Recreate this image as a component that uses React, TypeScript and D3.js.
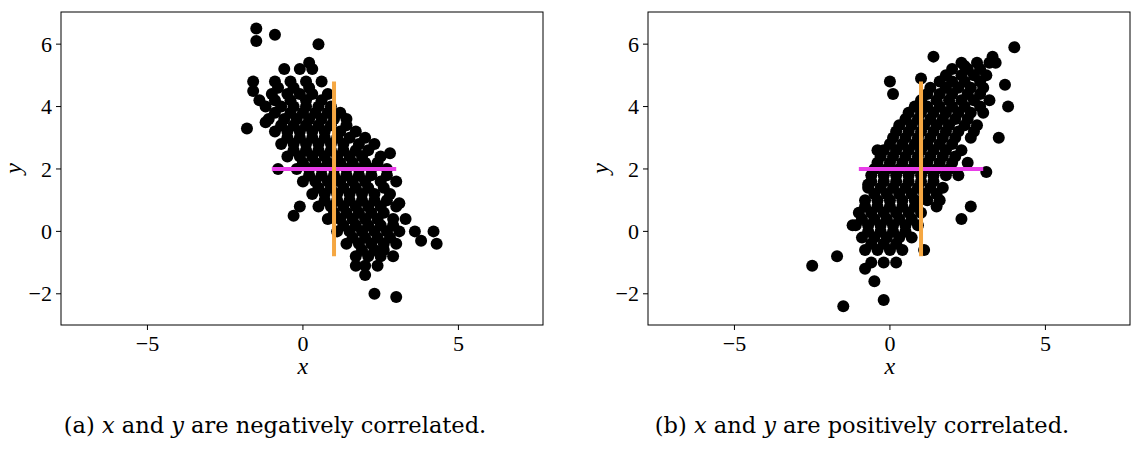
import * as d3 from 'd3'
import type { ReactElement } from 'react'

// points, [x, y]
const negativePoints: [number, number][] = [
  [-1.5, 6.5], [-1.5, 6.1], [-0.9, 6.3], [0.5, 6.0], [-1.6, 4.8], [-1.6, 4.5], [-1.8, 3.3], [-1.2, 3.5],
  [-0.8, 2.0], [-0.3, 0.5], [-0.1, 0.8], [3.6, 0.0], [3.8, -0.3], [4.2, 0.0], [4.3, -0.4], [3.0, -2.1],
  [2.3, -2.0], [2.0, -1.4], [1.7, -1.1], [3.1, 0.9], [2.6, -0.6], [-1.4, 4.2], [0.2, 5.4], [2.8, 2.5],
  [-0.6, 5.2], [-0.1, 5.2], [0.3, 5.2],
  [-0.9, 4.8], [-0.4, 4.8], [0.1, 4.8], [0.6, 4.8],
  [-1.0, 4.4], [-0.5, 4.4], [-0.1, 4.4], [0.3, 4.4], [0.8, 4.4],
  [-1.2, 4.0], [-0.7, 4.0], [-0.3, 4.0], [0.1, 4.0], [0.5, 4.0], [0.9, 4.0],
  [-1.1, 3.6], [-0.6, 3.6], [-0.2, 3.6], [0.2, 3.6], [0.6, 3.6], [1.0, 3.6], [1.4, 3.6],
  [-0.9, 3.2], [-0.5, 3.2], [-0.1, 3.2], [0.3, 3.2], [0.7, 3.2], [1.2, 3.2], [1.7, 3.2],
  [-0.7, 2.8], [-0.3, 2.8], [0.1, 2.8], [0.5, 2.8], [0.9, 2.8], [1.3, 2.8], [1.8, 2.8], [2.3, 2.8],
  [-0.5, 2.4], [-0.1, 2.4], [0.3, 2.4], [0.7, 2.4], [1.1, 2.4], [1.5, 2.4], [1.9, 2.4], [2.5, 2.4],
  [-0.2, 2.0], [0.2, 2.0], [0.6, 2.0], [1.0, 2.0], [1.4, 2.0], [1.8, 2.0], [2.2, 2.0], [2.7, 2.0],
  [0.0, 1.6], [0.4, 1.6], [0.8, 1.6], [1.2, 1.6], [1.6, 1.6], [2.0, 1.6], [2.5, 1.6], [3.0, 1.6],
  [0.3, 1.2], [0.7, 1.2], [1.1, 1.2], [1.5, 1.2], [1.9, 1.2], [2.3, 1.2], [2.8, 1.2],
  [0.5, 0.8], [0.9, 0.8], [1.3, 0.8], [1.7, 0.8], [2.1, 0.8], [2.5, 0.8], [3.0, 0.8],
  [0.8, 0.4], [1.2, 0.4], [1.6, 0.4], [2.0, 0.4], [2.4, 0.4], [2.9, 0.4], [3.3, 0.4],
  [1.1, 0.0], [1.5, 0.0], [1.9, 0.0], [2.3, 0.0], [2.7, 0.0], [3.1, 0.0],
  [1.4, -0.4], [1.8, -0.4], [2.2, -0.4], [2.6, -0.4], [3.0, -0.4],
  [1.7, -0.8], [2.1, -0.8], [2.5, -0.8], [2.9, -0.8],
  [2.0, -1.1], [2.4, -1.1],
  [-0.8, 4.6], [-0.3, 4.6], [0.2, 4.6], [-0.9, 4.2], [-0.4, 4.2], [0.1, 4.2], [0.6, 4.2],
  [-0.9, 3.8], [-0.4, 3.8], [0.0, 3.8], [0.4, 3.8], [0.8, 3.8], [1.2, 3.8],
  [-0.7, 3.4], [-0.3, 3.4], [0.1, 3.4], [0.5, 3.4], [0.9, 3.4], [1.4, 3.4],
  [-0.5, 3.0], [-0.1, 3.0], [0.3, 3.0], [0.7, 3.0], [1.1, 3.0], [1.5, 3.0], [2.0, 3.0],
  [-0.3, 2.6], [0.1, 2.6], [0.5, 2.6], [0.9, 2.6], [1.3, 2.6], [1.7, 2.6], [2.1, 2.6],
  [0.0, 2.2], [0.4, 2.2], [0.8, 2.2], [1.2, 2.2], [1.6, 2.2], [2.0, 2.2], [2.4, 2.2],
  [0.2, 1.8], [0.6, 1.8], [1.0, 1.8], [1.4, 1.8], [1.8, 1.8], [2.2, 1.8], [2.7, 1.8],
  [0.5, 1.4], [0.9, 1.4], [1.3, 1.4], [1.7, 1.4], [2.1, 1.4], [2.6, 1.4],
  [0.7, 1.0], [1.1, 1.0], [1.5, 1.0], [1.9, 1.0], [2.3, 1.0], [2.7, 1.0],
  [1.0, 0.6], [1.4, 0.6], [1.8, 0.6], [2.2, 0.6], [2.6, 0.6],
  [1.3, 0.2], [1.7, 0.2], [2.1, 0.2], [2.5, 0.2], [2.9, 0.2],
  [1.6, -0.2], [2.0, -0.2], [2.4, -0.2], [2.8, -0.2], [1.9, -0.6], [2.3, -0.6],
]

const positivePoints: [number, number][] = [
  [-2.5, -1.1], [-1.5, -2.4], [-0.2, -2.2], [4.0, 5.9], [3.3, 5.6], [1.4, 5.6], [2.4, 5.3], [0.1, 4.4],
  [-0.4, 2.6], [3.8, 4.0], [2.6, 0.8], [2.3, 0.4], [1.5, 0.8], [3.1, 1.9], [3.5, 3.0], [-1.2, 0.2],
  [-1.7, -0.8], [-0.5, -1.6], [-0.8, -1.2], [3.7, 4.7], [3.4, 5.4], [-0.7, 1.5], [0.0, 4.8], [1.0, 4.9],
  [2.3, 5.4], [2.8, 5.4], [3.2, 5.4],
  [1.8, 5.0], [2.3, 5.0], [2.7, 5.0], [3.1, 5.0],
  [1.3, 4.6], [1.8, 4.6], [2.2, 4.6], [2.6, 4.6], [3.0, 4.6],
  [1.0, 4.2], [1.5, 4.2], [1.9, 4.2], [2.3, 4.2], [2.7, 4.2], [3.2, 4.2],
  [0.6, 3.8], [1.0, 3.8], [1.4, 3.8], [1.8, 3.8], [2.2, 3.8], [2.6, 3.8], [3.0, 3.8],
  [0.3, 3.4], [0.7, 3.4], [1.1, 3.4], [1.5, 3.4], [1.9, 3.4], [2.4, 3.4], [2.8, 3.4],
  [0.1, 3.0], [0.5, 3.0], [0.9, 3.0], [1.3, 3.0], [1.7, 3.0], [2.1, 3.0], [2.6, 3.0],
  [-0.2, 2.6], [0.2, 2.6], [0.6, 2.6], [1.0, 2.6], [1.4, 2.6], [1.8, 2.6], [2.3, 2.6],
  [-0.4, 2.2], [0.0, 2.2], [0.4, 2.2], [0.8, 2.2], [1.2, 2.2], [1.6, 2.2], [2.0, 2.2], [2.5, 2.2],
  [-0.6, 1.8], [-0.2, 1.8], [0.2, 1.8], [0.6, 1.8], [1.0, 1.8], [1.4, 1.8], [1.8, 1.8], [2.2, 1.8],
  [-0.7, 1.4], [-0.3, 1.4], [0.1, 1.4], [0.5, 1.4], [0.9, 1.4], [1.3, 1.4], [1.7, 1.4],
  [-0.8, 1.0], [-0.4, 1.0], [0.0, 1.0], [0.4, 1.0], [0.8, 1.0], [1.2, 1.0], [1.6, 1.0],
  [-1.0, 0.6], [-0.6, 0.6], [-0.2, 0.6], [0.2, 0.6], [0.6, 0.6], [1.0, 0.6],
  [-1.1, 0.2], [-0.7, 0.2], [-0.3, 0.2], [0.1, 0.2], [0.5, 0.2], [0.9, 0.2],
  [-0.9, -0.2], [-0.5, -0.2], [-0.1, -0.2], [0.3, -0.2], [0.7, -0.2],
  [-0.8, -0.6], [-0.4, -0.6], [0.0, -0.6], [0.4, -0.6], [1.1, -0.6],
  [-0.6, -1.0], [-0.2, -1.0], [0.2, -1.0],
  [2.0, 5.2], [2.5, 5.2], [2.9, 5.2], [1.6, 4.8], [2.0, 4.8], [2.4, 4.8], [2.9, 4.8],
  [1.2, 4.4], [1.6, 4.4], [2.0, 4.4], [2.5, 4.4], [2.9, 4.4],
  [0.8, 4.0], [1.2, 4.0], [1.6, 4.0], [2.0, 4.0], [2.4, 4.0], [2.9, 4.0],
  [0.5, 3.6], [0.9, 3.6], [1.3, 3.6], [1.7, 3.6], [2.1, 3.6], [2.5, 3.6],
  [0.2, 3.2], [0.6, 3.2], [1.0, 3.2], [1.4, 3.2], [1.8, 3.2], [2.2, 3.2], [2.7, 3.2],
  [0.0, 2.8], [0.4, 2.8], [0.8, 2.8], [1.2, 2.8], [1.6, 2.8], [2.0, 2.8],
  [-0.3, 2.4], [0.1, 2.4], [0.5, 2.4], [0.9, 2.4], [1.3, 2.4], [1.7, 2.4], [2.1, 2.4],
  [-0.5, 2.0], [-0.1, 2.0], [0.3, 2.0], [0.7, 2.0], [1.1, 2.0], [1.5, 2.0], [1.9, 2.0],
  [-0.6, 1.6], [-0.2, 1.6], [0.2, 1.6], [0.6, 1.6], [1.0, 1.6], [1.4, 1.6],
  [-0.5, 1.2], [-0.1, 1.2], [0.3, 1.2], [0.7, 1.2], [1.1, 1.2], [1.5, 1.2],
  [-0.8, 0.8], [-0.4, 0.8], [0.0, 0.8], [0.4, 0.8], [0.8, 0.8],
  [-0.9, 0.4], [-0.5, 0.4], [-0.1, 0.4], [0.3, 0.4], [0.7, 0.4],
  [-0.7, 0.0], [-0.3, 0.0], [0.1, 0.0], [0.5, 0.0], [-0.6, -0.4], [-0.2, -0.4], [0.2, -0.4],
]

const xTicks = [-5, 0, 5]
const yTicks = [-2, 0, 2, 4, 6]
const xDomain: [number, number] = [-7.78, 7.72]
const yDomain: [number, number] = [-3, 7.03]
const verticalLine = { x: 1, y0: -0.8, y1: 4.8 }
const horizontalLine = { y: 2, x0: -1, x1: 3 }

const panels = [
  { left: 61, points: negativePoints, tag: '(a)', word: 'negatively' },
  { left: 648, points: positivePoints, tag: '(b)', word: 'positively' },
]

const plotWidth = 482
const plotTop = 12
const plotHeight = 313
const serif = '"Liberation Serif", "DejaVu Serif", serif'

function Panel({ left, points, tag, word }: (typeof panels)[number]): ReactElement {
  const x = d3.scaleLinear().domain(xDomain).range([0, plotWidth])
  const y = d3.scaleLinear().domain(yDomain).range([plotHeight, 0])
  const fmt = (v: number) => (v < 0 ? `\u2212${Math.abs(v)}` : `${v}`)
  return (
    <g transform={`translate(${left},${plotTop})`}>
      <rect width={plotWidth} height={plotHeight} fill="white" />
      {points.map(([px, py], i) => (
        <circle key={i} cx={x(px)} cy={y(py)} r={6} fill="black" />
      ))}
      <line x1={x(horizontalLine.x0)} x2={x(horizontalLine.x1)} y1={y(horizontalLine.y)} y2={y(horizontalLine.y)}
        stroke="#e83ee8" strokeWidth={4} />
      <line x1={x(verticalLine.x)} x2={x(verticalLine.x)} y1={y(verticalLine.y0)} y2={y(verticalLine.y1)}
        stroke="#f5a742" strokeWidth={4} />
      <rect width={plotWidth} height={plotHeight} fill="none" stroke="black" strokeWidth={1} />
      {xTicks.map((t) => (
        <g key={t} transform={`translate(${x(t)},${plotHeight})`}>
          <line y2={5} stroke="black" />
          <text y={26} textAnchor="middle" fontFamily={serif} fontSize={22}>{fmt(t)}</text>
        </g>
      ))}
      {yTicks.map((t) => (
        <g key={t} transform={`translate(0,${y(t)})`}>
          <line x2={-5} stroke="black" />
          <text x={-9} dy="0.35em" textAnchor="end" fontFamily={serif} fontSize={22}>{fmt(t)}</text>
        </g>
      ))}
      <text x={x(0)} y={plotHeight + 49} textAnchor="middle" fontFamily={serif} fontStyle="italic" fontSize={24}>x</text>
      <text transform={`translate(-40,${plotHeight / 2}) rotate(-90)`} textAnchor="middle" fontFamily={serif}
        fontStyle="italic" fontSize={24}>y</text>
      <text x={plotWidth / 2 - 27} y={plotHeight + 108} textAnchor="middle" fontFamily='"DejaVu Serif", serif'
        fontSize={22.5}>
        {tag} <tspan fontStyle="italic">x</tspan> and <tspan fontStyle="italic">y</tspan> are {word} correlated.
      </text>
    </g>
  )
}

export default function App(): ReactElement {
  return (
    <svg width={1144} height={450} style={{ position: 'absolute', left: 0, top: 0, background: 'white' }}>
      {panels.map((p) => (
        <Panel key={p.tag} {...p} />
      ))}
    </svg>
  )
}
